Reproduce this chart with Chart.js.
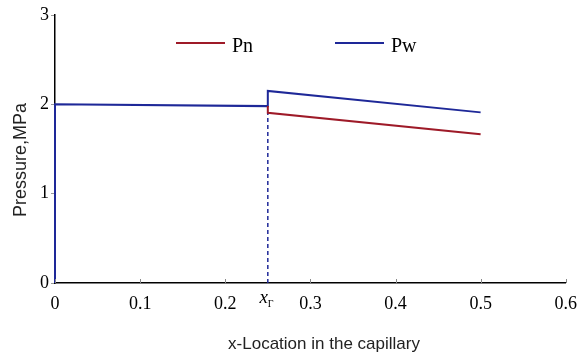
<!DOCTYPE html>
<html>
<head>
<meta charset="utf-8">
<script src="https://cdn.jsdelivr.net/npm/chart.js@4/dist/chart.umd.min.js"></script>
<style>
  html, body { margin: 0; padding: 0; background: #fff; }
  canvas { display: block; }
</style>
</head>
<body>
<canvas id="chart" width="579" height="356"></canvas>
<script>
// data
const pnX = [0.25, 0.25, 0.5];
const pnY = [1.98, 1.905, 1.665];
const pwX = [0, 0, 0.25, 0.25, 0.5];
const pwY = [0, 2.0, 1.98, 2.15, 1.91];
const interfaceX = 0.25;      // x_Γ, dashed marker
const interfaceTop = 1.905;
const seriesLabels = ['Pn', 'Pw'];
const xTitle = 'x-Location in the capillary';
const yTitle = 'Pressure,MPa';

const RED = 'rgb(158,26,40)';
const BLUE = 'rgb(30,40,152)';
const SERIF = "'Liberation Serif', 'Times New Roman', serif";
const SANS = "'Liberation Sans', Arial, sans-serif";

const toPoints = (xs, ys) => xs.map((x, i) => ({ x: x, y: ys[i] }));

// legend, x_Γ label, inward x ticks and axis titles
const extras = {
    id: 'extras',
    afterDraw(chart) {
        const ctx = chart.ctx;
        const xs = chart.scales.x;
        const area = chart.chartArea;
        ctx.save();

        // small inward ticks on the x axis
        ctx.strokeStyle = '#888';
        ctx.lineWidth = 1;
        xs.ticks.forEach(t => {
            const px = Math.round(xs.getPixelForValue(t.value)) + 0.5;
            ctx.beginPath();
            ctx.moveTo(px, area.bottom);
            ctx.lineTo(px, area.bottom - 4);
            ctx.stroke();
        });

        // x_Γ label under the interface
        const gx = xs.getPixelForValue(interfaceX);
        ctx.fillStyle = '#000';
        ctx.textBaseline = 'alphabetic';
        ctx.font = 'italic 19px ' + SERIF;
        ctx.textAlign = 'right';
        ctx.fillText('x', gx, 303);
        ctx.font = '10px ' + SERIF;
        ctx.textAlign = 'left';
        ctx.fillText('Γ', gx, 307);

        // legend
        const legendAt = [176, 335];
        seriesLabels.forEach((lab, i) => {
            const x0 = legendAt[i];
            ctx.strokeStyle = chart.data.datasets[i].borderColor;
            ctx.lineWidth = 2;
            ctx.beginPath();
            ctx.moveTo(x0, 43);
            ctx.lineTo(x0 + 49, 43);
            ctx.stroke();
            ctx.fillStyle = '#000';
            ctx.font = '20px ' + SERIF;
            ctx.textAlign = 'left';
            ctx.fillText(lab, x0 + 56, 52);
        });

        // axis titles
        ctx.fillStyle = '#222';
        ctx.font = '17px ' + SANS;
        ctx.textAlign = 'center';
        ctx.fillText(xTitle, 324, 349);

        ctx.translate(21, 160);
        ctx.rotate(-Math.PI / 2);
        ctx.font = '18px ' + SANS;
        ctx.textBaseline = 'middle';
        ctx.fillText(yTitle, 0, 0);
        ctx.restore();
    }
};

new Chart(document.getElementById('chart'), {
    type: 'line',
    data: {
        datasets: [
            {
                label: seriesLabels[0],
                data: toPoints(pnX, pnY),
                borderColor: RED,
                borderWidth: 2,
                pointRadius: 0,
                fill: false,
                tension: 0,
                clip: false
            },
            {
                label: seriesLabels[1],
                data: toPoints(pwX, pwY),
                borderColor: BLUE,
                borderWidth: 2,
                pointRadius: 0,
                fill: false,
                tension: 0,
                clip: false
            },
            {
                label: 'interface',
                data: toPoints([interfaceX, interfaceX], [0, interfaceTop]),
                borderColor: BLUE,
                borderWidth: 1.5,
                borderDash: [4, 3],
                pointRadius: 0,
                fill: false
            }
        ]
    },
    options: {
        responsive: false,
        animation: false,
        devicePixelRatio: 1,
        layout: { padding: { top: 15, right: 0, left: 0, bottom: 0 } },
        plugins: {
            legend: { display: false },
            tooltip: { enabled: false }
        },
        scales: {
            x: {
                type: 'linear',
                min: 0,
                max: 0.6,
                afterFit: s => { s.height = 73; },
                grid: { display: false },
                border: { color: '#000', width: 1.5 },
                ticks: {
                    stepSize: 0.1,
                    maxRotation: 0,
                    padding: 2,
                    color: '#000',
                    font: { family: SERIF, size: 18 },
                    callback: v => Number(v.toFixed(1)).toString()
                }
            },
            y: {
                min: 0,
                max: 3,
                afterFit: s => { s.width = 55; },
                grid: { drawOnChartArea: false, tickLength: 4, color: '#999' },
                border: { color: '#000', width: 1.5 },
                ticks: {
                    stepSize: 1,
                    padding: 2,
                    color: '#000',
                    font: { family: SERIF, size: 18 }
                }
            }
        }
    },
    plugins: [extras]
});
</script>
</body>
</html>
